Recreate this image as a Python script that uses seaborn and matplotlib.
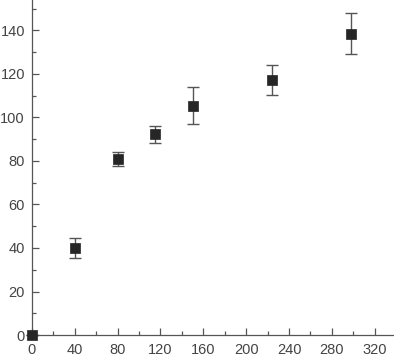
import numpy as np
import pandas as pd
import seaborn as sns
import matplotlib.pyplot as plt
from matplotlib.ticker import MultipleLocator

x_vals = [0, 40, 80, 115, 150, 224, 298]
y_vals = [0, 40.2, 80.9, 92.2, 105.4, 117.2, 138.6]
y_err = [0, 4.6, 3.0, 3.9, 8.6, 6.7, 9.5]

df = pd.DataFrame({"x": x_vals, "y": y_vals, "err": y_err})

sns.set_style("ticks")
plt.rcParams["font.family"] = ["Liberation Sans", "DejaVu Sans"]

fig = plt.figure(figsize=(3.94, 3.61), dpi=100)
ax = fig.add_axes([0.081, 0.072, 0.919, 0.928])

ax.errorbar(df["x"], df["y"], yerr=df["err"], fmt="none", ecolor="#555555",
            elinewidth=1.0, capsize=4, capthick=1.0, zorder=2, clip_on=False)
sns.scatterplot(data=df, x="x", y="y", marker="s", color="#262626", s=55,
                edgecolor="#262626", linewidth=0.5, zorder=3, clip_on=False, ax=ax)

ax.set_xlim(0, 338)
ax.set_ylim(0, 154)
ax.xaxis.set_major_locator(MultipleLocator(40))
ax.xaxis.set_minor_locator(MultipleLocator(20))
ax.yaxis.set_major_locator(MultipleLocator(20))
ax.yaxis.set_minor_locator(MultipleLocator(10))
ax.tick_params(which="both", direction="in", colors="#555555", labelcolor="#444444",
               labelsize=10.5, width=0.9)
ax.tick_params(axis="x", which="major", pad=6)
ax.tick_params(axis="y", which="major", pad=5)
ax.tick_params(which="major", length=5)
ax.tick_params(which="minor", length=3)
ax.set_xlabel("")
ax.set_ylabel("")
for s in ["top", "right"]:
    ax.spines[s].set_visible(False)
for s in ["left", "bottom"]:
    ax.spines[s].set_color("#555555")
    ax.spines[s].set_linewidth(0.9)

fig.savefig("out.png", dpi=100)
